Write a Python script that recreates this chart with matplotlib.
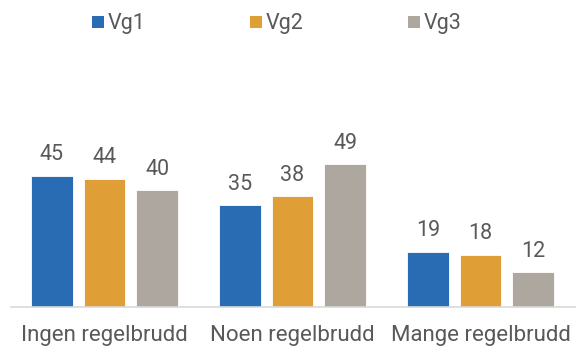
import matplotlib
matplotlib.use("Agg")
import matplotlib.pyplot as plt
import numpy as np
from matplotlib.patches import Rectangle

plt.rcParams['font.family'] = ['Roboto', 'DejaVu Sans']

categories = ["Ingen regelbrudd", "Noen regelbrudd", "Mange regelbrudd"]
series_names = ["Vg1", "Vg2", "Vg3"]
vg1 = [45, 35, 19]
vg2 = [44, 38, 18]
vg3 = [40, 49, 12]
colors = ["#2A6CB3", "#E09F36", "#AEA79F"]

text_color = "#595959"
W, H = 585, 350

fig = plt.figure(figsize=(W / 100, H / 100), dpi=100)
ax = fig.add_axes([10.5 / W, 1 - 307 / H, 564 / W, 175 / H])

x = np.arange(len(categories))
step = 0.28
width = 0.221
for i, (vals, col) in enumerate(zip([vg1, vg2, vg3], colors)):
    pos = x + (i - 1) * step
    bars = ax.bar(pos, vals, width=width, color=col, edgecolor="white", linewidth=0.6)
    for b, v in zip(bars, vals):
        ax.annotate(f"{v}", (b.get_x() + b.get_width() / 2, v), xytext=(0, 7.5),
                    textcoords="offset points", ha="center", va="bottom",
                    fontsize=15.5, color=text_color)

ax.set_xlim(-0.5, 2.5)
ax.set_ylim(0, 60)
ax.set_yticks([])
ax.set_xticks(x)
ax.set_xticklabels(categories, fontsize=16, color=text_color)
ax.tick_params(axis="x", length=0, pad=13)
for s in ["top", "right", "left"]:
    ax.spines[s].set_visible(False)
ax.spines["bottom"].set_color("#D9D9D9")
ax.spines["bottom"].set_linewidth(1.2)

# legend row: colour squares with series names
for i, (name, col) in enumerate(zip(series_names, colors)):
    x0 = 92 + i * 158
    fig.patches.append(Rectangle((x0 / W, 1 - 28 / H), 12 / W, 12 / H,
                                 transform=fig.transFigure, facecolor=col,
                                 edgecolor="none"))
    fig.text((x0 + 16) / W, 1 - 28.5 / H, name, ha="left", va="baseline",
             fontsize=15.5, color=text_color)

fig.savefig("out.png", dpi=100)
